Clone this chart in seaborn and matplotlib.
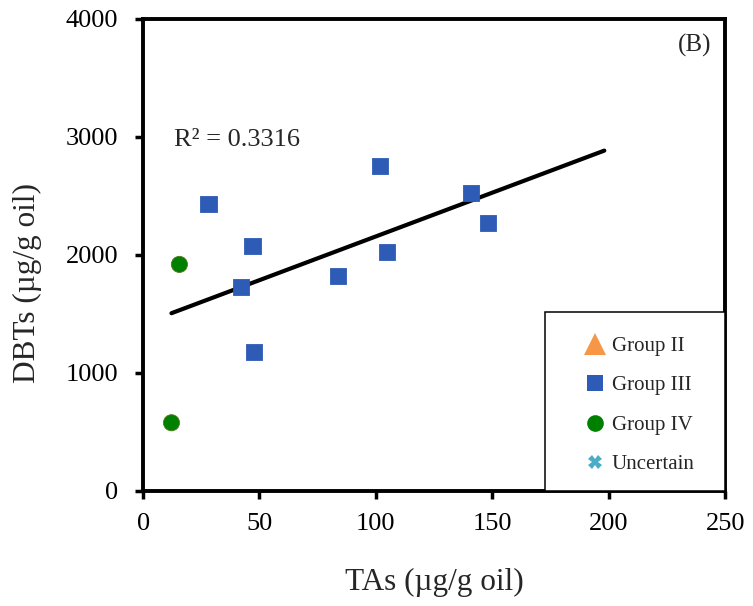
import numpy as np
import pandas as pd
import matplotlib
matplotlib.use("Agg")
import matplotlib.pyplot as plt
import seaborn as sns
from matplotlib.lines import Line2D
from matplotlib.patches import Rectangle

# values
g3_tas = [28.1, 47.0, 42.2, 47.5, 83.6, 101.7, 104.7, 140.8, 148.1]
g3_dbts = [2429, 2072, 1724, 1180, 1817, 2752, 2021, 2522, 2268]
g4_tas = [15.6, 12.2]
g4_dbts = [1919, 577]

groups = ["Group II", "Group III", "Group IV", "Uncertain"]
colors = {"Group II": "#F79646", "Group III": "#2E5BB5",
          "Group IV": "#008000", "Uncertain": "#4BACC6"}
markers = {"Group II": "^", "Group III": "s", "Group IV": "o", "Uncertain": "X"}
r2_label = "R\u00b2 = 0.3316"
forecast = 50  # trendline forward forecast

df = pd.DataFrame({
    "TAs": g3_tas + g4_tas,
    "DBTs": g3_dbts + g4_dbts,
    "group": ["Group III"] * len(g3_tas) + ["Group IV"] * len(g4_tas),
})

sns.set_style("ticks")
plt.rcParams["font.family"] = ["Liberation Serif", "DejaVu Serif"]

fig = plt.figure(figsize=(7.53, 6.06), dpi=100)
ax = fig.add_axes([0.19, 0.19, 0.773, 0.779])

sns.scatterplot(data=df, x="TAs", y="DBTs", hue="group", style="group",
                palette=colors, markers=markers, s=135, linewidth=0.6,
                edgecolor="none", legend=False, ax=ax, zorder=3)
# olive rim on the green dots
ax.collections[0].set_edgecolor(
    [colors[g] if g == "Group III" else "#4F7A1E" for g in df["group"]])

# linear trendline over all points, extended forward like Excel
slope, icpt = np.polyfit(df["TAs"], df["DBTs"], 1)
tx = np.array([df["TAs"].min(), df["TAs"].max() + forecast])
ax.plot(tx, slope * tx + icpt, color="black", lw=3, solid_capstyle="round", zorder=2)

ax.set_xlim(0, 250)
ax.set_ylim(0, 4000)
ax.set_xticks(range(0, 251, 50))
ax.set_yticks(range(0, 4001, 1000))
for sp in ax.spines.values():
    sp.set_linewidth(2.8)
    sp.set_color("black")
ax.tick_params(axis="both", length=6, width=2.5, labelsize=19, color="black",
               labelcolor="black")
ax.tick_params(axis="y", pad=12)
ax.tick_params(axis="x", pad=10)

ax.set_xlabel("TAs (\u00b5g/g oil)", fontsize=22.5, labelpad=24)
ax.set_ylabel("DBTs (\u00b5g/g oil)", fontsize=22.5)
ax.yaxis.set_label_coords(-0.174, 0.44)

ax.text(0.053, 0.744, r2_label, transform=ax.transAxes, fontsize=19,
        ha="left", va="center")
ax.text(0.947, 0.943, "(B)", transform=ax.transAxes, fontsize=18,
        ha="center", va="center")

# legend box
ax.add_patch(Rectangle((0.691, 0), 0.309, 0.379, transform=ax.transAxes,
                       fill=True, facecolor="white", edgecolor="black",
                       lw=1.1, zorder=4))
msize = {"Group II": 16, "Group III": 12, "Group IV": 12, "Uncertain": 10}
handles = [Line2D([], [], ls="none", marker=markers[g], color=colors[g],
                  markersize=msize[g], markeredgewidth=0) for g in groups]
leg = ax.legend(handles, groups, loc="upper left", bbox_to_anchor=(0.755, 0.327),
                frameon=False, fontsize=15, handlelength=1.2, handletextpad=0.2,
                labelspacing=0.95, borderpad=0, borderaxespad=0)
leg.set_zorder(5)

fig.savefig("out.png", dpi=100)
